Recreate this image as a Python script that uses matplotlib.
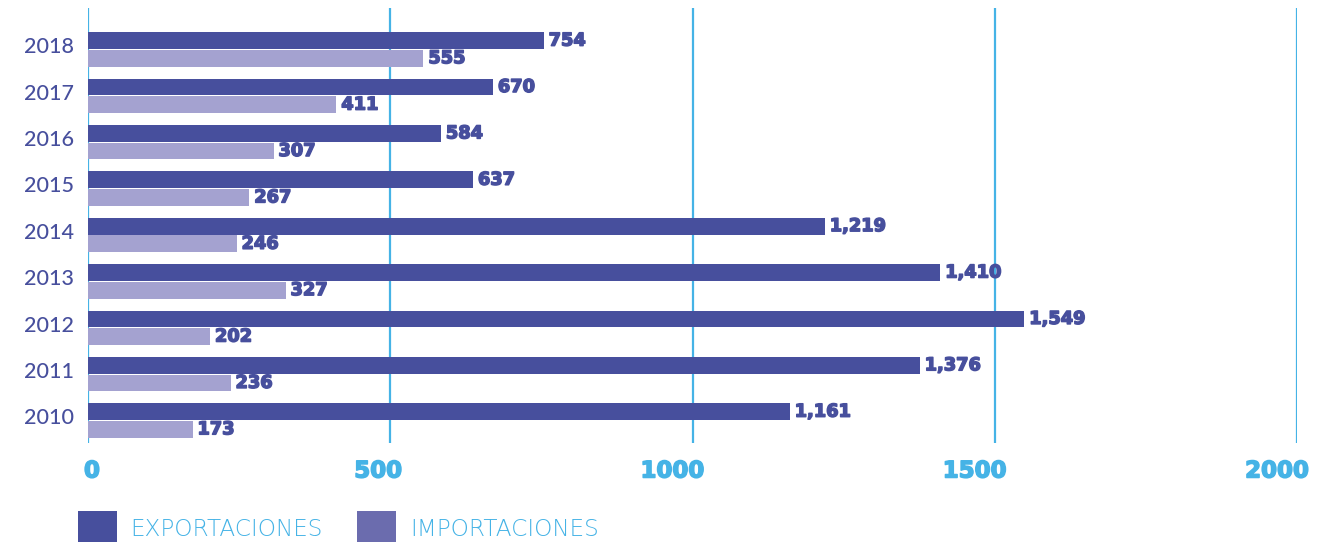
import matplotlib
matplotlib.use("Agg")
import matplotlib.pyplot as plt
import matplotlib.patheffects as pe
from matplotlib.patches import Rectangle
import numpy as np

years = ["2010", "2011", "2012", "2013", "2014", "2015", "2016", "2017", "2018"]
exportaciones = [1161, 1376, 1549, 1410, 1219, 637, 584, 670, 754]
importaciones = [173, 236, 202, 327, 246, 267, 307, 411, 555]
x_ticks = [0, 500, 1000, 1500, 2000]
legend_labels = ["EXPORTACIONES", "IMPORTACIONES"]

C_EXP = "#474f9d"
C_IMP = "#a4a2d0"
C_IMP_LEG = "#6b6cae"
C_GRID = "#45b3e6"
C_TEXT = "#474f9d"

W, H = 1340, 542
fig = plt.figure(figsize=(W / 100, H / 100), dpi=100)
ax = fig.add_axes([88 / W, 1 - 443 / H, (1297 - 88) / W, (443 - 8) / H])

y = np.arange(len(years))
bh = 0.36
off = 0.19
ax.barh(y + off, exportaciones, height=bh, color=C_EXP, zorder=3)
ax.barh(y - off, importaciones, height=bh, color=C_IMP, zorder=3)


def heavy(color):
    return [pe.withStroke(linewidth=1.1, foreground=color)]


num_font = dict(family="DejaVu Sans", fontweight="bold")
for yi, ve, vi in zip(y, exportaciones, importaciones):
    for val, yy in ((ve, yi + off), (vi, yi - off)):
        ax.annotate(f"{val:,}", xy=(val, yy), xytext=(3.5, 0),
                    textcoords="offset points", ha="left", va="center",
                    fontsize=12.8, color=C_TEXT, path_effects=heavy(C_TEXT),
                    zorder=4, **num_font)

ax.set_xlim(0, 2000)
ax.set_ylim(-0.485, 8.894)
for t in x_ticks:
    ax.axvline(t, color=C_GRID, lw=1.6, zorder=1)
    ax.annotate(str(t), xy=(t, 0), xycoords=("data", "axes fraction"),
                xytext=(12, -28), textcoords="offset pixels", ha="right",
                va="center", fontsize=16.5, color=C_GRID,
                path_effects=heavy(C_GRID), **num_font)

ax.set_xticks([])
ax.set_yticks(y + 0.09)
ax.set_yticklabels(years, family="Lato", fontweight="medium", fontsize=15.5,
                   color=C_TEXT)
ax.tick_params(axis="y", length=0, pad=10)
for s in ax.spines.values():
    s.set_visible(False)

# legend drawn in figure pixels
for x0, color, label, tx in [(78, C_EXP, legend_labels[0], 130),
                             (357, C_IMP_LEG, legend_labels[1], 410)]:
    fig.add_artist(Rectangle((x0 / W, 0), 39 / W, 31 / H,
                             transform=fig.transFigure, color=color, lw=0))
    fig.text(tx / W, 1 - 530 / H, label, family="DejaVu Sans",
             fontweight="ultralight", fontsize=16.7, color=C_GRID,
             ha="left", va="center")

fig.savefig("out.png", dpi=100)
